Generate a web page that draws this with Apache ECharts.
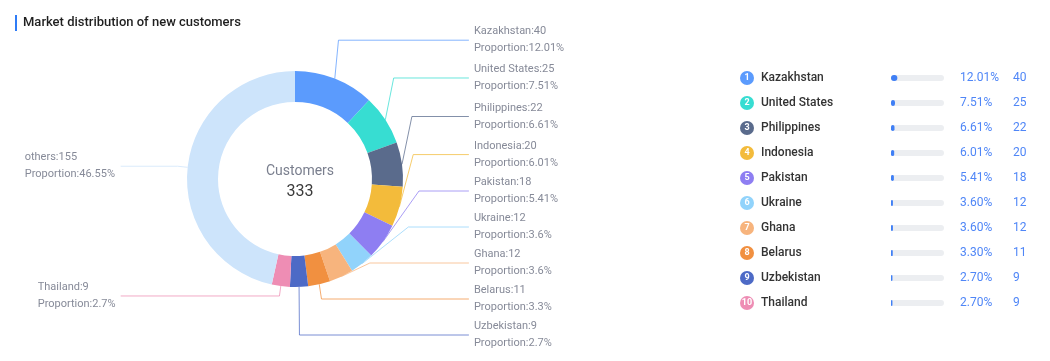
<!DOCTYPE html>
<html>
<head>
<meta charset="utf-8">
<script src="https://cdn.jsdelivr.net/npm/echarts@6/dist/echarts.min.js"></script>
<style>
html,body{margin:0;padding:0;background:#fff;}
#c{width:1050px;height:361px;}
</style>
</head>
<body>
<div id="c"></div>
<script>
const countries = ['Kazakhstan','United States','Philippines','Indonesia','Pakistan','Ukraine','Ghana','Belarus','Uzbekistan','Thailand'];
const counts = [40,25,22,20,18,12,12,11,9,9];
const othersName = 'others';
const othersCount = 155;
const colors = ['#5b9bfd','#37ddd2','#5a6b8c','#f3bb3b','#8e7ef2','#91d3fb','#f7b47d','#f19040','#4d6ac6','#ee8db4'];
const othersColor = '#cde4fb';
const titleText = 'Market distribution of new customers';
const centerLabel = 'Customers';

const total = counts.reduce((a,b)=>a+b,0) + othersCount;
const pct = v => parseFloat((v/total*100).toFixed(2));
const pctFixed = v => (v/total*100).toFixed(2);

const FONT = 'Roboto';
const LABEL_SIZE = 11;
const measureCtx = document.createElement('canvas').getContext('2d');
measureCtx.font = LABEL_SIZE + 'px ' + FONT;
const tw = s => measureCtx.measureText(s).width;

const pieData = countries.map((n,i)=>({name:n,value:counts[i],itemStyle:{color:colors[i]},labelLine:{lineStyle:{color:colors[i]}}}));
pieData.push({name:othersName,value:othersCount,itemStyle:{color:othersColor},labelLine:{lineStyle:{color:othersColor}}});

const rich = {};
colors.forEach((c,i)=>{
  rich['n'+i] = {backgroundColor:c,color:'#fff',width:14,height:14,borderRadius:7,align:'center',fontSize:9,fontWeight:'bold',fontFamily:FONT,lineHeight:14};
});
rich.name = {color:'#333',fontSize:12,fontWeight:500,fontFamily:FONT,padding:[0,0,0,7]};

const labelRich = {b:{color:'#868a98',fontSize:LABEL_SIZE,lineHeight:17,fontFamily:FONT,align:'left'}};

const chart = echarts.init(document.getElementById('c'),null,{renderer:'canvas'});
chart.setOption({
  animation:false,
  textStyle:{fontFamily:FONT},
  title:[
    {left:10,top:10,text:'{bar|}{t|'+titleText+'}',textStyle:{rich:{bar:{backgroundColor:'#2f7cf6',width:2,height:16},t:{fontSize:13,fontWeight:500,color:'#1f1f1f',fontFamily:FONT,padding:[0,0,0,6]}}}},
    {left:295,top:159,textAlign:'center',text:centerLabel,subtext:String(total),itemGap:6,
     textStyle:{fontSize:14,fontWeight:'normal',color:'#7a7f8e',fontFamily:FONT},
     subtextStyle:{fontSize:16,color:'#3a3a3a',fontFamily:FONT}}
  ],
  grid:{left:891,width:53,top:65.5,height:250},
  xAxis:{type:'value',min:0,max:100,show:false},
  yAxis:{type:'category',inverse:true,data:countries,axisLine:{show:false},axisTick:{show:false},
    axisLabel:{align:'left',margin:151,formatter:(v,i)=>'{n'+i+'|'+(i+1)+'}{name|'+v+'}',rich:rich}},
  series:[
    {type:'pie',center:[295,179],radius:[77,108],startAngle:90,clockwise:true,
     left:0,top:0,width:590,height:353,
     data:pieData.map((d,i)=>{
       const l1 = d.name+':'+d.value, l2 = 'Proportion:'+pct(d.value)+'%';
       const w = Math.ceil(Math.max(tw(l1),tw(l2)));
       const key = 'a'+i;
       labelRich[key] = {color:'#868a98',fontSize:LABEL_SIZE,lineHeight:17,fontFamily:FONT,width:w,align:'left'};
       return Object.assign({}, d, {label:{formatter:'{'+key+'|'+l1+'}\n{b|'+l2+'}'}});
     }),
     label:{show:true,alignTo:'labelLine',rich:labelRich,
        color:'#868a98',fontSize:LABEL_SIZE,lineHeight:17,fontFamily:FONT},
     labelLine:{show:true,length:10,length2:57,lineStyle:{width:1,opacity:0.75}},
     emphasis:{disabled:true}},
    {type:'bar',data:countries.map(()=>100),barWidth:6,itemStyle:{color:'#eceef1',borderRadius:3},silent:true,
     label:{show:true,position:'right',distance:16,formatter:p=>'{p|'+pctFixed(counts[p.dataIndex])+'%}{v|'+counts[p.dataIndex]+'}',
       rich:{p:{width:53,color:'#4f86f7',fontSize:12,fontFamily:FONT},v:{color:'#4f86f7',fontSize:12,fontFamily:FONT}}}},
    {type:'bar',data:counts.map(pct),barWidth:6,barGap:'-100%',itemStyle:{color:'#3f7ff5',borderRadius:3},silent:true}
  ]
});
</script>
</body>
</html>
